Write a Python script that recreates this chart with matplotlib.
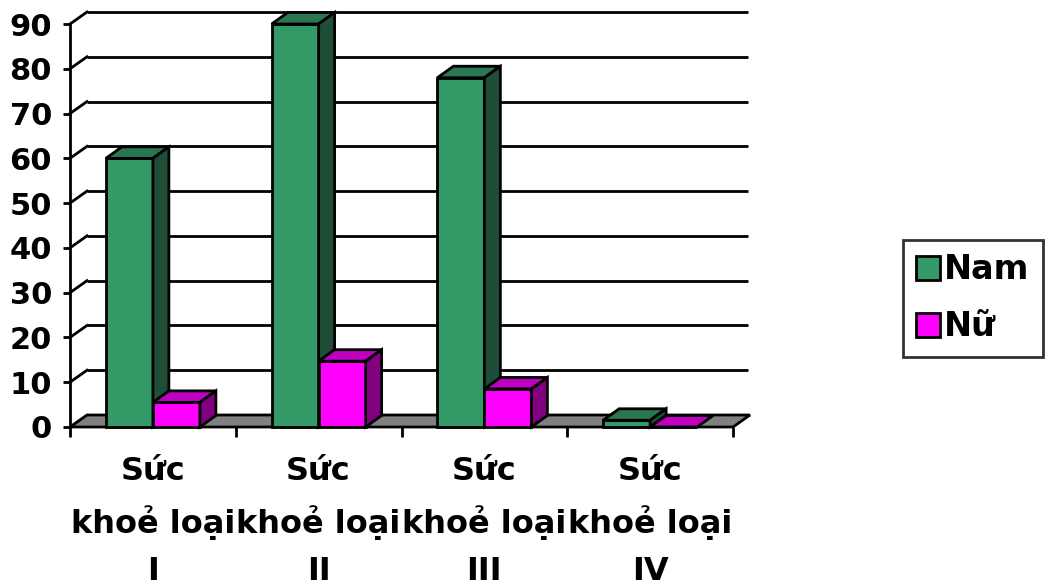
import matplotlib
matplotlib.use("Agg")
import matplotlib.pyplot as plt
from matplotlib.patches import Polygon, Patch

plt.rcParams['font.family'] = ['DejaVu Sans']
plt.rcParams['font.weight'] = 'bold'

categories = ["Sức\nkhoẻ loại\nI", "Sức\nkhoẻ loại\nII", "Sức\nkhoẻ loại\nIII", "Sức\nkhoẻ loại\nIV"]
series_names = ["Nam", "Nữ"]
nam = [60, 90, 78, 1.5]
nu = [5.5, 14.7, 8.5, 0]
y_ticks = [0, 10, 20, 30, 40, 50, 60, 70, 80, 90]

W, H = 1052, 586
fig = plt.figure(figsize=(W / 100, H / 100), dpi=100)

# front plane of the 3-D box, in pixels
x0, x1 = 70, 733
y0, y90 = 427, 24
ax = fig.add_axes([x0 / W, 1 - y0 / H, (x1 - x0) / W, (y0 - y90) / H])
ax.set_xlim(0, len(categories))
ax.set_ylim(0, 90)

# depth offset of the back wall, converted to data units
px_x = (x1 - x0) / len(categories)
px_y = (y0 - y90) / 90
DX = 17 / px_x
DY = 12 / px_y
BDX = 16 / px_x
BDY = 11.5 / px_y

lw = 2.0
n = len(categories)

# floor
floor = Polygon([(0, 0), (n, 0), (n + DX, DY), (DX, DY)], closed=True,
                facecolor='#808080', edgecolor='black', lw=lw, zorder=1,
                clip_on=False)
ax.add_patch(floor)

# gridlines on the back wall plus diagonals on the side wall
for v in y_ticks[1:]:
    ax.plot([DX, n + DX * 0.9], [v + DY, v + DY], color='black', lw=lw,
            zorder=0.5, clip_on=False, solid_capstyle='butt')
    ax.plot([0, DX], [v, v + DY], color='black', lw=lw, zorder=0.5,
            clip_on=False)

# bars
colors = {
    "Nam": ('#339966', '#2a7650', '#1f4d35'),
    "Nữ": ('#ff00ff', '#c000c0', '#800080'),
}
bw = 47 / px_x
gap = (1 - 2 * bw) / 2
z = 2
for i in range(n):
    for k, (name, vals) in enumerate(zip(series_names, [nam, nu])):
        front, top, side = colors[name]
        left = i + gap + k * bw
        v = vals[i]
        ax.bar(left, v, width=bw, align='edge', color=front, edgecolor='black',
               lw=lw, zorder=z, clip_on=False)
        ax.add_patch(Polygon([(left, v), (left + bw, v), (left + bw + BDX, v + BDY),
                              (left + BDX, v + BDY)], closed=True, facecolor=top,
                             edgecolor='black', lw=lw, zorder=z + 0.1,
                             clip_on=False, joinstyle='miter'))
        if v > 0:
            ax.add_patch(Polygon([(left + bw, 0), (left + bw + BDX, BDY),
                                  (left + bw + BDX, v + BDY), (left + bw, v)],
                                 closed=True, facecolor=side, edgecolor='black',
                                 lw=lw, zorder=z + 0.2, clip_on=False,
                                 joinstyle='miter'))
        z += 1

# axes
for s in ['top', 'right', 'bottom']:
    ax.spines[s].set_visible(False)
ax.spines['left'].set_linewidth(lw)
ax.spines['left'].set_zorder(50)
ax.set_yticks(y_ticks)
ax.set_yticklabels([str(t) for t in y_ticks], fontsize=22, fontweight='bold')
ax.tick_params(axis='y', direction='out', length=5, width=lw, pad=8)

ax.set_xticks([i + 0.5 for i in range(n)])
ax.set_xticklabels(categories, fontsize=23, fontweight='bold',
                   linespacing=1.65)
ax.set_xticks(range(n + 1), minor=True)
ax.tick_params(axis='x', which='major', length=0, pad=21)
ax.tick_params(axis='x', which='minor', direction='out', length=7, width=lw)
ax.patch.set_alpha(0)

handles = [Patch(facecolor=colors[s][0], edgecolor='black', lw=lw) for s in series_names]
leg = fig.legend(handles, series_names, loc='upper left',
                 bbox_to_anchor=(903 / W, 1 - 240 / H),
                 prop={'size': 24, 'weight': 'bold'}, frameon=True,
                 fancybox=False, handlelength=0.72, handleheight=0.72,
                 handletextpad=0.12, labelspacing=0.72, borderpad=0.4,
                 borderaxespad=0)
leg.get_frame().set_edgecolor('black')
leg.get_frame().set_linewidth(lw)

fig.savefig("out.png", dpi=100)
